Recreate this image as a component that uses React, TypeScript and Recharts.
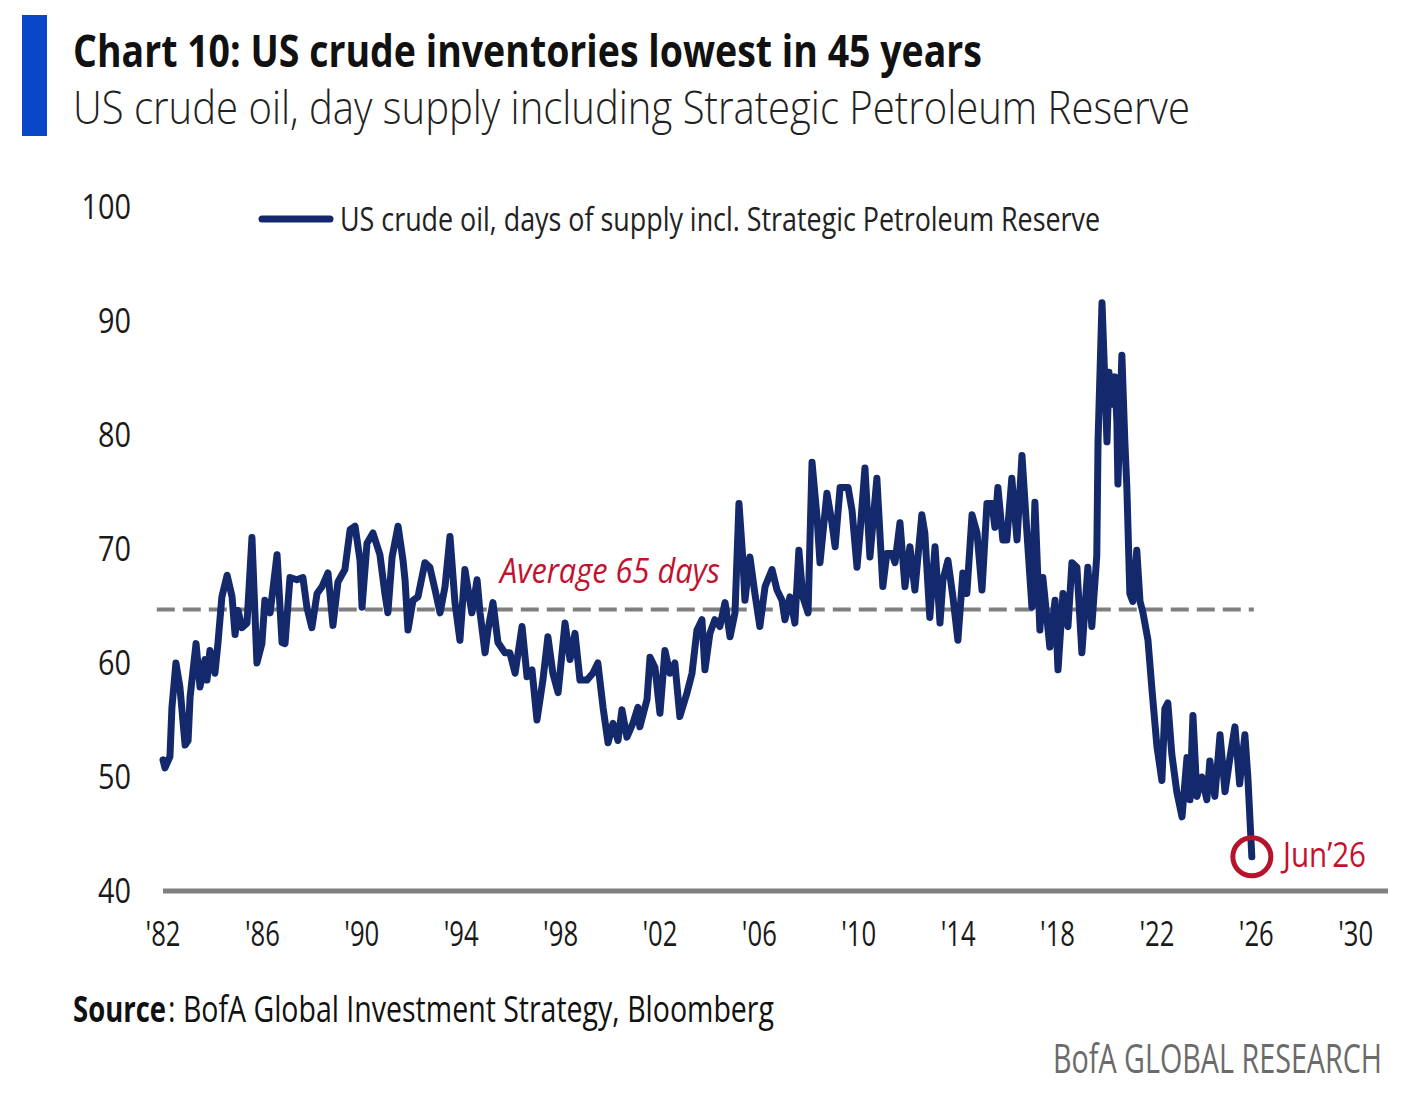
import { LineChart, Line, XAxis, YAxis, ReferenceLine, ReferenceDot } from "recharts";

// decimal year of each reading
const years = [
  1982.0, 1982.08, 1982.28, 1982.36, 1982.52, 1982.68, 1982.89, 1983.01, 1983.09, 1983.33,
  1983.49, 1983.69, 1983.77, 1983.89, 1984.09, 1984.21, 1984.37, 1984.58, 1984.78, 1984.9,
  1985.02, 1985.18, 1985.38, 1985.58, 1985.78, 1985.98, 1986.1, 1986.31, 1986.59, 1986.79,
  1986.91, 1987.11, 1987.39, 1987.63, 1987.79, 1987.99, 1988.2, 1988.4, 1988.64, 1988.84,
  1989.04, 1989.32, 1989.53, 1989.73, 1989.93, 1990.01, 1990.21, 1990.45, 1990.73, 1990.93,
  1991.05, 1991.22, 1991.46, 1991.66, 1991.74, 1991.86, 1992.06, 1992.26, 1992.54, 1992.74,
  1992.95, 1993.15, 1993.35, 1993.55, 1993.75, 1993.95, 1994.15, 1994.43, 1994.64, 1994.76,
  1994.96, 1995.08, 1995.28, 1995.48, 1995.76, 1995.96, 1996.17, 1996.45, 1996.65, 1996.85,
  1997.05, 1997.29, 1997.49, 1997.69, 1997.9, 1998.18, 1998.38, 1998.58, 1998.78, 1999.06,
  1999.3, 1999.5, 1999.71, 1999.91, 2000.11, 2000.31, 2000.47, 2000.67, 2000.91, 2001.11,
  2001.19, 2001.48, 2001.6, 2001.8, 2002.0, 2002.2, 2002.4, 2002.6, 2002.8, 2003.09,
  2003.29, 2003.49, 2003.69, 2003.81, 2004.01, 2004.21, 2004.41, 2004.62, 2004.82, 2005.02,
  2005.18, 2005.34, 2005.42, 2005.62, 2005.82, 2006.02, 2006.23, 2006.51, 2006.71, 2006.91,
  2007.03, 2007.23, 2007.43, 2007.59, 2007.75, 2007.96, 2008.12, 2008.32, 2008.44, 2008.72,
  2008.92, 2009.05, 2009.25, 2009.57, 2009.73, 2009.93, 2010.05, 2010.25, 2010.45, 2010.73,
  2010.97, 2011.13, 2011.34, 2011.46, 2011.66, 2011.86, 2012.06, 2012.26, 2012.54, 2012.66,
  2012.86, 2013.07, 2013.27, 2013.39, 2013.59, 2013.79, 2013.99, 2014.19, 2014.35, 2014.56,
  2014.76, 2014.96, 2015.16, 2015.36, 2015.48, 2015.6, 2015.8, 2015.96, 2016.16, 2016.37,
  2016.57, 2016.77, 2016.97, 2017.09, 2017.29, 2017.41, 2017.69, 2017.9, 2018.02, 2018.22,
  2018.42, 2018.58, 2018.78, 2018.98, 2019.22, 2019.38, 2019.58, 2019.63, 2019.79, 2019.91,
  2019.99, 2020.07, 2020.19, 2020.31, 2020.39, 2020.43, 2020.59, 2020.71, 2020.79, 2020.91,
  2021.03, 2021.19, 2021.32, 2021.44, 2021.64, 2021.8, 2022.0, 2022.2, 2022.32, 2022.44,
  2022.6, 2022.8, 2023.01, 2023.21, 2023.33, 2023.45, 2023.61, 2023.81, 2024.01, 2024.13,
  2024.33, 2024.54, 2024.74, 2024.94, 2025.14, 2025.33, 2025.54, 2025.66, 2025.82,
];

// days of supply, incl. SPR
const days = [
  51.5, 50.8, 51.8, 56.1, 60.0, 57.9, 52.8, 53.2, 57.0, 61.7,
  57.9, 60.3, 58.5, 61.1, 59.1, 61.7, 65.8, 67.7, 65.8, 62.5,
  64.6, 63.1, 63.5, 71.0, 60.0, 61.7, 65.5, 64.4, 69.5, 61.8,
  61.7, 67.5, 67.3, 67.5, 64.9, 63.1, 66.1, 66.7, 67.9, 63.3,
  67.1, 68.2, 71.7, 72.0, 69.0, 64.9, 70.5, 71.4, 69.5, 66.1,
  64.4, 69.3, 72.0, 69.0, 67.3, 62.9, 65.5, 65.8, 68.8, 68.4,
  66.4, 64.4, 66.7, 71.1, 65.3, 62.0, 68.2, 64.4, 67.3, 64.4,
  60.9, 62.9, 65.3, 61.8, 60.9, 60.9, 59.1, 63.2, 58.8, 59.4,
  55.0, 58.5, 62.3, 59.1, 57.4, 63.5, 60.3, 62.6, 58.5, 58.5,
  59.1, 60.0, 56.1, 53.0, 54.7, 53.2, 55.9, 53.5, 54.7, 56.1,
  54.4, 56.8, 60.5, 59.6, 55.6, 61.1, 59.1, 60.0, 55.3, 57.4,
  59.1, 62.9, 63.8, 59.4, 62.6, 63.8, 63.2, 65.3, 62.3, 64.4,
  74.0, 69.0, 65.5, 69.3, 66.1, 63.2, 66.7, 68.2, 66.4, 65.5,
  63.8, 65.8, 63.5, 69.9, 65.8, 64.4, 77.6, 72.8, 68.8, 74.9,
  72.3, 70.2, 75.4, 75.4, 73.4, 68.4, 71.4, 77.1, 69.3, 76.2,
  66.7, 69.6, 69.6, 68.8, 72.3, 66.7, 70.2, 66.4, 73.0, 71.4,
  64.0, 70.2, 63.5, 67.3, 69.0, 65.8, 62.0, 67.9, 66.1, 73.0,
  71.4, 66.4, 74.0, 74.0, 71.9, 75.4, 70.8, 70.8, 76.2, 70.8,
  78.2, 71.4, 64.9, 74.1, 62.9, 67.5, 61.4, 65.5, 59.4, 66.1,
  63.2, 68.8, 68.4, 60.9, 68.4, 63.2, 69.4, 79.4, 91.6, 84.4,
  79.4, 85.5, 82.7, 85.1, 81.1, 75.7, 87.0, 79.4, 75.4, 66.1,
  65.4, 69.9, 65.4, 64.4, 62.0, 57.7, 52.7, 49.7, 56.0, 56.5,
  52.0, 48.7, 46.5, 51.7, 48.0, 55.4, 48.3, 50.0, 48.0, 51.4,
  48.3, 53.7, 48.7, 51.7, 54.4, 49.4, 53.7, 50.0, 43.0,
];

const xTicks = [1982, 1986, 1990, 1994, 1998, 2002, 2006, 2010, 2014, 2018, 2022, 2026, 2030];
const yTicks = [40, 50, 60, 70, 80, 90, 100];
const average = 64.7;

const NAVY = "#14296c";
const RED = "#c2122f";
const FONT = "'Open Sans', 'Noto Sans', sans-serif";
const SX = 0.7; // horizontal squeeze for the footer texts

const data = years.map((year, i) => ({ year, days: days[i] }));
const last = data[data.length - 1];

const YTick = ({ y, payload }: any) => {
  const label = String(payload.value);
  return (
    <text x={131} y={y + 12} textAnchor="end" fontFamily={FONT} fontSize={35} fill="#1a1a1a"
      textLength={label.length * 16.5} lengthAdjust="spacingAndGlyphs">
      {label}
    </text>
  );
};

const XTick = ({ x, y, payload }: any) => {
  const label = "'" + String(payload.value).slice(2);
  return (
    <text x={x} y={y + 47} textAnchor="middle" fontFamily={FONT} fontSize={35} fill="#1a1a1a"
      textLength={35} lengthAdjust="spacingAndGlyphs">
      {label}
    </text>
  );
};

export default function App() {
  return (
    <div style={{ position: "absolute", left: 0, top: 0, width: 1425, height: 1104, background: "#fff" }}>
      <LineChart width={1425} height={1104} data={data}
        margin={{ top: 207, right: 37, bottom: 183, left: 103 }}>
        <XAxis dataKey="year" type="number" domain={[1982, 2031.3]} ticks={xTicks}
          axisLine={{ stroke: "#808080", strokeWidth: 5 }} tickLine={false} height={30}
          tick={<XTick />} interval={0} />
        <YAxis type="number" domain={[40, 100]} ticks={yTicks} width={60}
          axisLine={false} tickLine={false} tick={<YTick />} interval={0} />
        <ReferenceLine
          segment={[{ x: 1981.75, y: average }, { x: 2025.9, y: average }]}
          stroke="#7f7f7f" strokeWidth={4} strokeDasharray="18 8" ifOverflow="visible" />
        <Line type="linear" dataKey="days" stroke={NAVY} strokeWidth={7}
          strokeLinejoin="round" strokeLinecap="round" dot={false} isAnimationActive={false} />
        <ReferenceDot x={last.year} y={last.days} r={19} fill="none"
          stroke="#b5142b" strokeWidth={5} ifOverflow="visible" />
      </LineChart>

      <svg width={1425} height={1104} style={{ position: "absolute", left: 0, top: 0, pointerEvents: "none" }}>
        <rect x={22} y={15} width={25} height={121} fill="#0a47c8" />
        <text x={73} y={67} fontFamily={FONT} fontWeight={700} fontSize={44} fill="#111"
          textLength={909} lengthAdjust="spacingAndGlyphs">
          Chart 10: US crude inventories lowest in 45 years
        </text>
        <text x={73} y={124} fontFamily={FONT} fontWeight={300} fontSize={46} fill="#222"
          textLength={1117} lengthAdjust="spacingAndGlyphs">
          US crude oil, day supply including Strategic Petroleum Reserve
        </text>

        <line x1={262} x2={330} y1={219} y2={219} stroke={NAVY} strokeWidth={7} strokeLinecap="round" />
        <text x={340} y={231} fontFamily={FONT} fontSize={32} fill="#222"
          textLength={760} lengthAdjust="spacingAndGlyphs">
          US crude oil, days of supply incl. Strategic Petroleum Reserve
        </text>

        <text x={500} y={583} fontFamily={FONT} fontStyle="italic" fontSize={34} fill={RED}
          textLength={220} lengthAdjust="spacingAndGlyphs">
          Average 65 days
        </text>
        <text x={1283} y={867} fontFamily={FONT} fontSize={34} fill={RED}
          textLength={83} lengthAdjust="spacingAndGlyphs">
          Jun’26
        </text>

        <g transform={`translate(73, 1022) scale(${SX}, 1)`}>
          <text x={0} y={0} fontFamily={FONT} fontWeight={700} fontSize={36} fill="#111"
            textLength={93 / SX} lengthAdjust="spacingAndGlyphs">
            Source
          </text>
          <text x={95 / SX} y={0} fontFamily={FONT} fontSize={36} fill="#111"
            textLength={606 / SX} lengthAdjust="spacingAndGlyphs">
            : BofA Global Investment Strategy, Bloomberg
          </text>
        </g>
        <g transform={`translate(1382, 1073) scale(${SX}, 1)`}>
          <text x={0} y={0} textAnchor="end" fontFamily={FONT} fontSize={40} fill="#6b6b6b"
            textLength={329 / SX} lengthAdjust="spacingAndGlyphs">
            BofA GLOBAL RESEARCH
          </text>
        </g>
      </svg>
    </div>
  );
}
